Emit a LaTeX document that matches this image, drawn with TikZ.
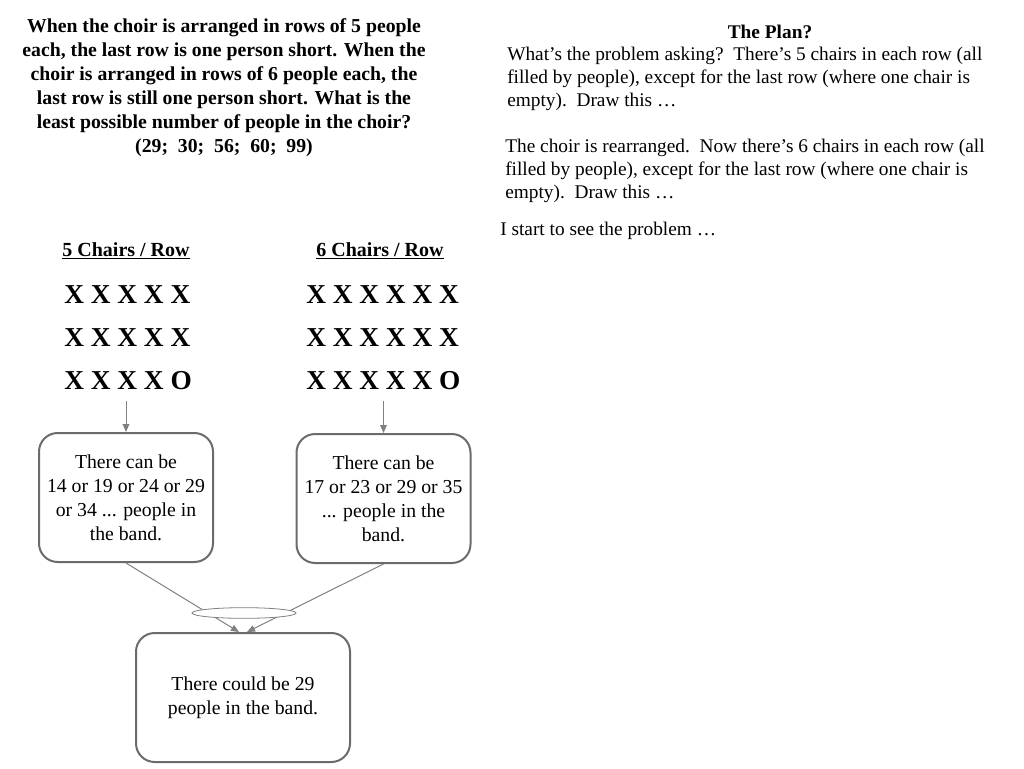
\documentclass[tikz,border=0pt]{standalone}
\usepackage{fontspec}
\setmainfont{Liberation Serif}
\usetikzlibrary{arrows.meta,positioning,shapes.geometric}

\begin{document}
\begin{tikzpicture}[x=0.75pt,y=-0.75pt,
 question/.style={align=center,font=\fontsize{14.8}{18}\selectfont\bfseries},
 plantext/.style={align=left,anchor=north west,inner sep=0pt,
   font=\fontsize{14.5}{17}\selectfont},
 heading/.style={font=\fontsize{15}{17}\selectfont\bfseries},
 chairs/.style={anchor=west,inner sep=0pt,font=\fontsize{20.5}{24}\selectfont\bfseries},
 count/.style={draw=black!58,line width=1.5pt,rounded corners=14pt,
   minimum width=130.5pt,minimum height=96.75pt,inner sep=2pt,
   align=center,font=\fontsize{14.8}{18}\selectfont},
 feed/.style={-{Triangle[length=6pt,width=5pt]},draw=black!50,line width=.75pt}
]
\useasboundingbox (0,0) rectangle (1024,768);

% problem statement
\node[question] (problem) at (224,88)
 {When the choir is arranged in rows of 5 people\\
  each, the last row is one person short. When the\\
  choir is arranged in rows of 6 people each, the\\
  last row is still one person short. What is the\\
  least possible number of people in the choir?\\
  (29;\ \ 30;\ \ 56;\ \ 60;\ \ 99)};

% the plan
\node[font=\fontsize{14.5}{17}\selectfont\bfseries] (plan) at (770,32) {The Plan?};
\node[plantext] (ask) at (507,47)
 {What’s the problem asking?\ \ There’s 5 chairs in each row (all\\
  filled by people), except for the last row (where one chair is\\
  empty).\ \ Draw this …};
\node[plantext] (rearrange) at (505,139)
 {The choir is rearranged.\ \ Now there’s 6 chairs in each row (all\\
  filled by people), except for the last row (where one chair is\\
  empty).\ \ Draw this …};
\node[plantext] (start) at (500,222) {I start to see the problem …};

% chair rows
\node[heading] (headfive) at (126,251) {\underline{5 Chairs / Row}};
\node[heading] (headsix) at (380,251) {\underline{6 Chairs / Row}};
\node[chairs] (fiveA) at (64,295) {X X X X X};
\node[chairs] (fiveB) at (64,338) {X X X X X};
\node[chairs] (fiveC) at (64,381) {X X X X O};
\node[chairs] (sixA) at (306,295) {X X X X X X};
\node[chairs] (sixB) at (306,338) {X X X X X X};
\node[chairs] (sixC) at (306,381) {X X X X X O};

% counts
\node[count] (five) at (126,497.5)
 {There can be\\14 or 19 or 24 or 29\\or 34 ... people in\\the band.};
\node[count] (six) at (383.5,498.5)
 {There can be\\17 or 23 or 29 or 35\\... people in the\\band.};
\node[count,minimum width=160.5pt] (answer) at (243,697.5)
 {There could be 29\\people in the band.};

\draw[feed,shorten <=8pt] (fiveC.south -| five.north) -- (five.north);
\draw[feed,shorten <=8pt] (sixC.south -| six.north) -- (six.north);

\draw[feed] (five.south) -- ([xshift=-3pt]answer.north);
\draw[feed] (six.south) -- ([xshift=3pt]answer.north);
\node[ellipse,draw=black!50,fill=white,line width=.6pt,
 minimum width=78pt,minimum height=8pt,inner sep=0pt] (merge) at (244,613) {};
\end{tikzpicture}
\end{document}
